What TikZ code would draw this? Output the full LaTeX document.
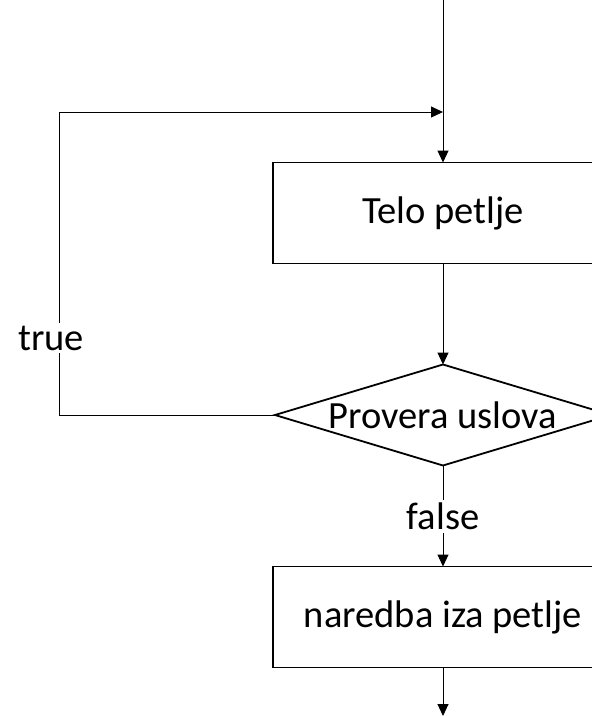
\documentclass[tikz,border=0pt]{standalone}
\usepackage{fontspec}
\setmainfont{Carlito}
\usetikzlibrary{shapes.geometric, arrows.meta, positioning}
\tikzset{
  stmt/.style={rectangle, draw=black, line width=1.8pt, minimum width=340pt, minimum height=101pt,
    inner sep=0pt, outer sep=0pt, font=\fontsize{38.5}{46}\selectfont},
  cond/.style={diamond, draw=black, line width=1.8pt, minimum width=336pt, minimum height=101pt,
    inner sep=0pt, outer sep=0pt},
  flow/.style={-{Triangle[length=12pt,width=11pt]}, line width=1pt},
  lbl/.style={fill=white, inner sep=3pt, font=\fontsize{38.5}{46}\selectfont}
}
\begin{document}
\begin{tikzpicture}[x=1pt, y=-1pt, node distance=101pt]
  \fill[white] (0,0) rectangle (592,716);
  \useasboundingbox (0,0) rectangle (592,716);
  % blocks
  \node[stmt] (body) at (443,213) {Telo petlje};
  \node[cond, below=of body, label={[lbl, fill=none]center:Provera uslova}] (test) {};
  \node[stmt, below=of test] (after) {naredba iza petlje};
  \coordinate (start) at (443,0);
  \coordinate (join) at (443,112);
  \coordinate (back) at (59,112);
  \coordinate (exit) at (443,716);
  % connectors
  \draw[flow] (start) -- (body);
  \draw[flow] (body) -- (test);
  \draw[flow] (test.west) -| node[lbl, pos=0.627, xshift=-8pt] {true} (back) -- (join);
  \draw[flow] (test) -- node[lbl, midway] {false} (after);
  \draw[flow] (after) -- (exit);
\end{tikzpicture}
\end{document}
